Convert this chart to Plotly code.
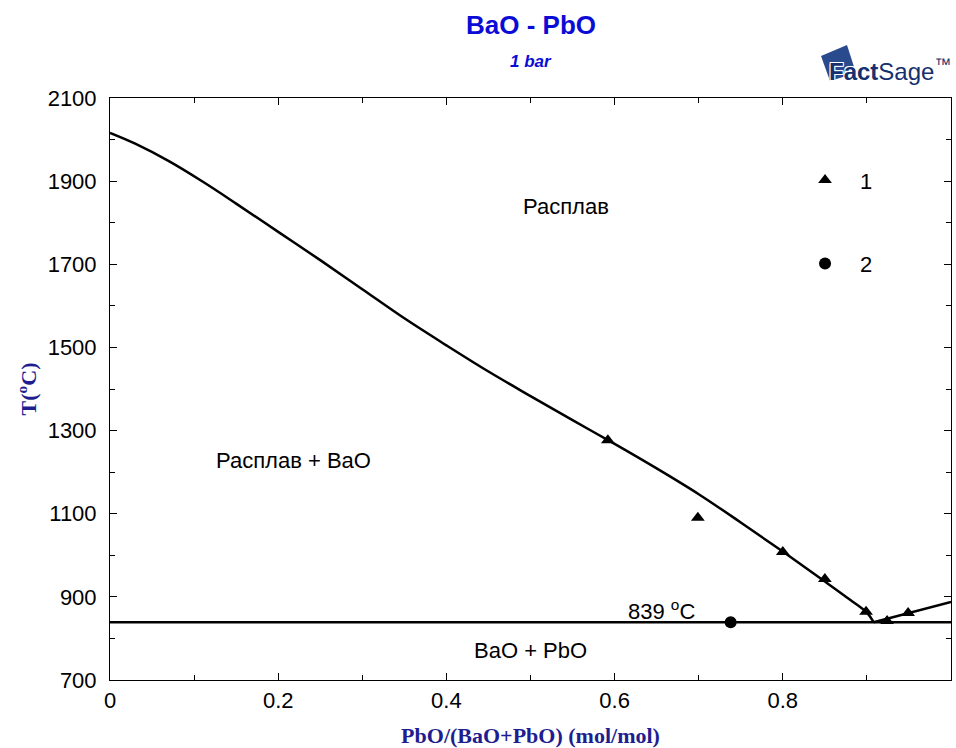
import plotly.graph_objects as go

# ---- data ----
liq_x = [0.0, 0.03, 0.07, 0.11, 0.15, 0.20, 0.25, 0.30, 0.35, 0.40, 0.45,
         0.50, 0.55, 0.60, 0.65, 0.70, 0.75, 0.80, 0.85, 0.88, 0.90, 0.908]
liq_y = [2016, 1990, 1948, 1899, 1846, 1778, 1710, 1640, 1570, 1505, 1442,
         1383, 1325, 1268, 1209, 1147, 1079, 1009, 937, 893, 862, 839]
right_x = [0.908, 1.0]
right_y = [839, 888]
eut_x = [0.0, 1.0]
eut_y = [839, 839]

s1_x = [0.592, 0.699, 0.800, 0.850, 0.899, 0.924, 0.949]
s1_y = [1277, 1090, 1008, 943, 864, 842, 861]
s2_x = [0.738]
s2_y = [839]

labels = ["Расплав", "Расплав + BaO", "BaO + PbO", "839 <sup>o</sup>C"]
label_x = [0.542, 0.218, 0.50, 0.656]
label_y = [1838, 1229, 770, 868]

x_ticks = [0, 0.2, 0.4, 0.6, 0.8, 1]
x_tick_text = ["0", "0.2", "0.4", "0.6", "0.8", "1"]
y_ticks = [700, 900, 1100, 1300, 1500, 1700, 1900, 2100]

SANS = "Liberation Sans, Arial, sans-serif"
SERIF = "Liberation Serif, Times New Roman, serif"

fig = go.Figure()
line_style = dict(color="black", width=2.5)
fig.add_trace(go.Scatter(x=liq_x, y=liq_y, mode="lines", line=dict(shape="spline", smoothing=1.0, **line_style),
                         showlegend=False, hoverinfo="skip"))
fig.add_trace(go.Scatter(x=right_x, y=right_y, mode="lines", line=line_style, showlegend=False, hoverinfo="skip"))
fig.add_trace(go.Scatter(x=eut_x, y=eut_y, mode="lines", line=line_style, showlegend=False, hoverinfo="skip"))
fig.add_trace(go.Scatter(x=s1_x, y=s1_y, mode="markers", name="1", legendgroup="1",
                         marker=dict(symbol="triangle-up", size=12, color="black")))
fig.add_trace(go.Scatter(x=s2_x, y=s2_y, mode="markers", name="2", legendgroup="2",
                         marker=dict(symbol="circle", size=12, color="black")))

for t, x, y in zip(labels, label_x, label_y):
    fig.add_annotation(x=x, y=y, text=t, showarrow=False, yanchor="middle",
                       font=dict(family=SANS, size=22, color="black"))

# title / subtitle
fig.add_annotation(xref="paper", yref="paper", x=0.5, y=1.0 + 73 / 582, text="<b>BaO - PbO</b>",
                   showarrow=False, yanchor="middle", font=dict(family=SANS, size=26, color="#0b0bd6"))
fig.add_annotation(xref="paper", yref="paper", x=0.5, y=1.0 + 37 / 582, text="<b><i>1 bar</i></b>",
                   showarrow=False, yanchor="middle", font=dict(family=SANS, size=17, color="#0b0bd6"))

# FactSage logo approximation
def px(x):
    return (x - 110) / 841

def py(y):
    return (680 - y) / 582

pts = [(821, 56), (847, 45), (856, 73), (830, 81)]
path = "M " + " L ".join(f"{px(a)},{py(b)}" for a, b in pts) + " Z"
fig.add_shape(type="path", path=path, xref="paper", yref="paper", fillcolor="#2a4a8e",
              line=dict(width=0), layer="below")
fig.add_annotation(xref="paper", yref="paper", x=px(827), y=py(70), xanchor="left", yanchor="middle",
                   text="<b>Fact</b>Sage<sup>™</sup>", showarrow=False,
                   font=dict(family="Liberation Sans Narrow, Arial Narrow, " + SANS, size=24, color="#16306e",
                             shadow="1px 1px 0 white, -1px -1px 0 white, 1px -1px 0 white, -1px 1px 0 white"))

axis_common = dict(showline=True, linecolor="black", linewidth=1, mirror="allticks",
                   ticks="inside", ticklen=7, tickcolor="black", tickwidth=1,
                   showgrid=False, zeroline=False,
                   tickfont=dict(family=SANS, size=22, color="black"))

fig.update_xaxes(range=[0, 1], tickvals=x_ticks, ticktext=x_tick_text, ticklabelstandoff=1,
                 minor=dict(dtick=0.1, ticks="inside", ticklen=5, tickcolor="black", showgrid=False),
                 title=dict(text="<b>PbO/(BaO+PbO) (mol/mol)</b>", standoff=15,
                            font=dict(family=SERIF, size=22, color="#1e1e90")),
                 **axis_common)
fig.update_yaxes(range=[700, 2100], tickvals=y_ticks, ticklabelstandoff=8,
                 minor=dict(dtick=100, ticks="inside", ticklen=5, tickcolor="black", showgrid=False),
                 title=dict(text="<b>T(<sup>o</sup>C)</b>", standoff=4,
                            font=dict(family=SERIF, size=22, color="#1e1e90")),
                 **axis_common)

fig.update_layout(width=956, height=748, margin=dict(l=110, r=5, t=98, b=68),
                  plot_bgcolor="white", paper_bgcolor="white",
                  legend=dict(x=0.8086, y=0.895, xanchor="left", yanchor="top", traceorder="grouped",
                              tracegroupgap=52, itemwidth=60, bgcolor="rgba(0,0,0,0)",
                              font=dict(family=SANS, size=22, color="black")))

fig.write_html("out.html")
